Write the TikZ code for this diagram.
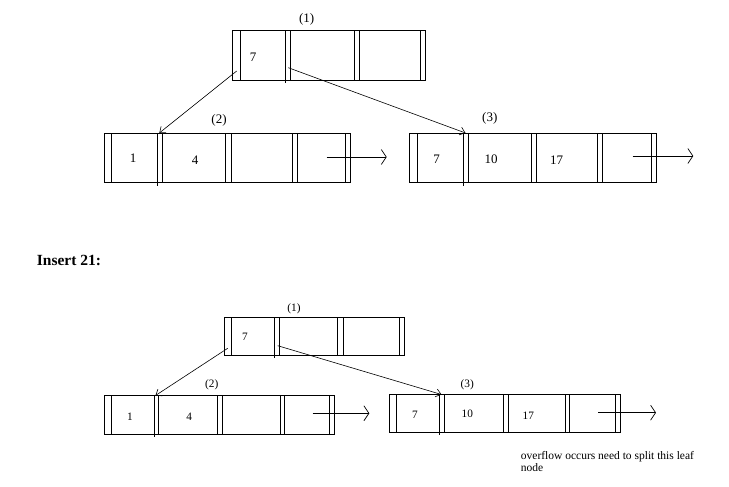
\documentclass[tikz,border=0pt]{standalone}
\usepackage{fontspec}
\setmainfont{Liberation Serif}
\usetikzlibrary{arrows.meta}

\tikzset{
  blk/.style={draw, line width=0.7pt, rectangle, inner sep=0pt, outer sep=0pt, anchor=north west},
  sepline/.style={line width=0.7pt},
  keytop/.style={inner sep=0pt, font=\fontsize{13}{14}\selectfont},
  keybot/.style={inner sep=0pt, font=\fontsize{11.3}{12}\selectfont},
  ptr/.style={line width=0.6pt, -{Straight Barb[length=5pt,width=8pt]}},
  nxt/.style={line width=0.7pt, -{Straight Barb[length=5pt,width=15pt]}},
}

\begin{document}
\begin{tikzpicture}[x=1pt,y=1pt,yscale=-1,xscale=1]
        \useasboundingbox (0,0) rectangle (729,487);

        %%%%%%%%%% before insert %%%%%%%%%%
        %Shape: Rectangle (root 1)
        \node[blk, minimum width=192.3, minimum height=50] (rootA) at (232.7,30.7) {};
        \foreach \x in {240,290.7,354,359.3,420}
          \draw[sepline] (\x,30.7) -- (\x,80.7);
        \draw[sepline] (285.7,30.7) -- (285.7,82.7);
        %Shape: Rectangle (leaf 2)
        \node[blk, minimum width=246, minimum height=49.4] (leafA) at (104,133.3) {};
        \foreach \x in {111.7,162.7,225.7,231,292.7,297.3,345}
          \draw[sepline] (\x,133.3) -- (\x,182.7);
        \draw[sepline] (157.3,133.3) -- (157.3,185.5);
        %Shape: Rectangle (leaf 3)
        \node[blk, minimum width=247.4, minimum height=49.4] (leafB) at (409.3,133.3) {};
        \foreach \x in {417.3,468.3,531,536.7,597.7,602.3,651.7}
          \draw[sepline] (\x,133.3) -- (\x,182.7);
        \draw[sepline] (463.3,133.3) -- (463.3,185.5);

        %Straight Lines (child pointers)
        \coordinate (pA1) at (236.7,71);
        \coordinate (pA2) at (288.3,67.7);
        \coordinate (tA2) at (159.3,133);
        \coordinate (tA3) at (465.5,133);
        \draw[ptr] (pA1) -- (tA2);
        \draw[ptr] (pA2) -- (tA3);
        %Straight Lines (next leaf)
        \coordinate (nA2) at (326.7,157);
        \coordinate (eA2) at (386.7,157);
        \coordinate (nA3) at (632.7,156);
        \coordinate (eA3) at (693.3,156);
        \draw[nxt] (nA2) -- (eA2);
        \draw[nxt] (nA3) -- (eA3);

        % Text Node
        \node[keytop] (labA1) at (306.7,19.5) {(1)};
        % Text Node
        \node[keytop] (kA7) at (253,57) {7};
        % Text Node
        \node[keytop] (labA2) at (219,120) {(2)};
        % Text Node
        \node[keytop] (kA1) at (133,158) {1};
        % Text Node
        \node[keytop] (kA4) at (195,160) {4};
        % Text Node
        \node[keytop] (labA3) at (489.8,118.8) {(3)};
        % Text Node
        \node[keytop] (kA7b) at (436.7,159.3) {7};
        % Text Node
        \node[keytop] (kA10) at (491.2,159.2) {10};
        % Text Node
        \node[keytop] (kA17) at (556.7,160) {17};

        % Text Node
        \node[anchor=base west, inner sep=0pt, font=\fontsize{15.5}{17}\selectfont\bfseries] (ins) at (36.7,265) {Insert 21:};

        %%%%%%%%%% after insert %%%%%%%%%%
        %Shape: Rectangle (root 1)
        \node[blk, minimum width=179.7, minimum height=38] (rootB) at (224.3,317.3) {};
        \foreach \x in {231.7,279,337.7,343.3,399.3}
          \draw[sepline] (\x,317.3) -- (\x,355.3);
        \draw[sepline] (274.3,317.3) -- (274.3,357.7);
        %Shape: Rectangle (leaf 2)
        \node[blk, minimum width=230, minimum height=38.3] (leafC) at (104,395.7) {};
        \foreach \x in {111,158.3,217.7,222.7,280,284.3,329.3}
          \draw[sepline] (\x,395.7) -- (\x,434);
        \draw[sepline] (154,395.7) -- (154,436.5);
        %Shape: Rectangle (leaf 3)
        \node[blk, minimum width=230.7, minimum height=38.4] (leafD) at (389.3,394.3) {};
        \foreach \x in {396.7,444,503.3,508.3,565,569.3,615}
          \draw[sepline] (\x,394.3) -- (\x,432.7);
        \draw[sepline] (439.3,394.3) -- (439.3,435);

        %Straight Lines (child pointers)
        \coordinate (pB1) at (227.7,348.3);
        \coordinate (pB2) at (277.7,345.7);
        \coordinate (tB2) at (155.5,395.5);
        \coordinate (tB3) at (441.5,394.5);
        \draw[ptr] (pB1) -- (tB2);
        \draw[ptr] (pB2) -- (tB3);
        %Straight Lines (next leaf)
        \coordinate (nB2) at (312.7,413.3);
        \coordinate (eB2) at (369.3,413.3);
        \coordinate (nB3) at (598.3,412.7);
        \coordinate (eB3) at (656,412.7);
        \draw[nxt] (nB2) -- (eB2);
        \draw[nxt] (nB3) -- (eB3);

        % Text Node
        \node[keybot] (labB1) at (294,308.3) {(1)};
        % Text Node
        \node[keybot] (kB7) at (245,336.7) {7};
        % Text Node
        \node[keybot] (labB2) at (211.7,385) {(2)};
        % Text Node
        \node[keybot] (kB1) at (130,416.7) {1};
        % Text Node
        \node[keybot] (kB4) at (189.3,417) {4};
        % Text Node
        \node[keybot] (labB3) at (467.3,385) {(3)};
        % Text Node
        \node[keybot] (kB7b) at (415,415) {7};
        % Text Node
        \node[keybot] (kB10) at (467.3,414) {10};
        % Text Node
        \node[keybot] (kB17) at (528.3,416) {17};

        % Text Node
        \node[anchor=base west, inner sep=0pt, align=left, font=\fontsize{11.5}{12}\selectfont] (note) at (520.7,471.5) {overflow occurs need to split this leaf\\node};

\end{tikzpicture}
\end{document}
